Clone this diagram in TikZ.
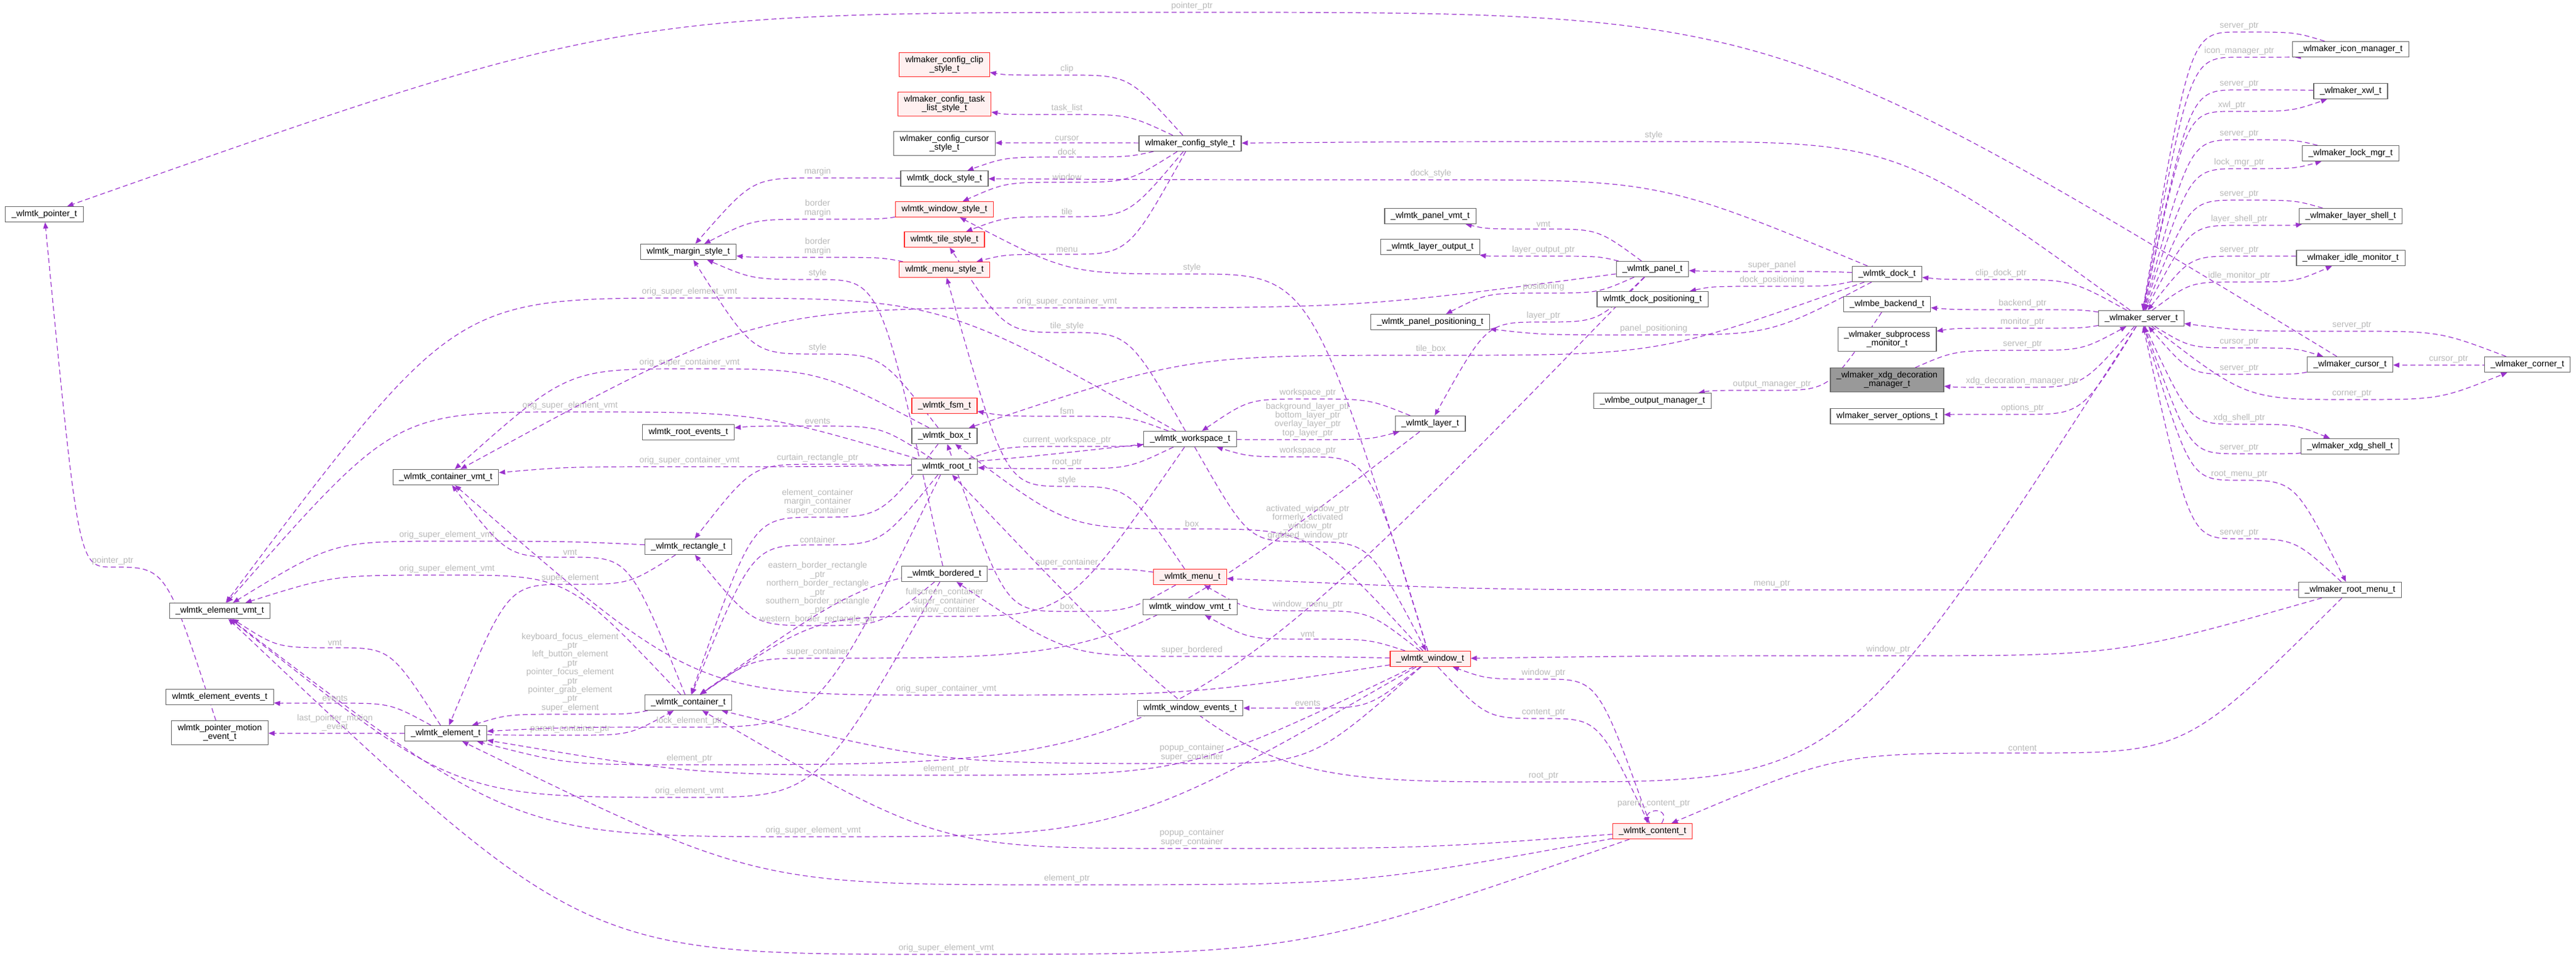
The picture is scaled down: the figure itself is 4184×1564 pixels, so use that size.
\documentclass[tikz,border=0pt]{standalone}
\usepackage{fontspec}
\setmainfont{Liberation Sans}
\usetikzlibrary{arrows.meta, positioning, calc, backgrounds}

\definecolor{depline}{HTML}{9A32CD}
\definecolor{redframe}{HTML}{FF2A2A}
\definecolor{redfill}{HTML}{FFF0F0}
\definecolor{curfill}{HTML}{999999}
\newcommand{\gfont}{\fontsize{4}{4.1}\selectfont}

% member edge: holder, point the curve passes, member type, label
\newcommand{\mbr}[4]{%
  \draw[dep] let \p1=(#1), \p2=(#2), \p3=(#3) in
    (#1) .. controls ({0.5*(\x1)+0.5*(\x2)},\y2) .. (\p2)
         .. controls ({0.5*(\x3)+0.5*(\x2)},\y2) .. (#3);
  \node[elabel] at (#2) {#4};}

\begin{document}
\begin{tikzpicture}[x=0.1mm, y=-0.1mm, font=\gfont,
        cls/.style={draw=black!60, fill=white, line width=0.12mm, minimum height=2.5mm,
          inner xsep=1mm, inner ysep=0.55mm, align=center},
        redcls/.style={cls, draw=redframe, fill=redfill},
        curcls/.style={cls, fill=curfill},
        dep/.style={draw=depline, line width=0.12mm, dash pattern=on 0.8mm off 0.5mm,
          -{Triangle[length=1mm, width=0.8mm]}},
        elabel/.style={anchor=south, text=black!28, inner sep=0.3mm, align=center},
      ]
        \useasboundingbox (0,0) rectangle (4184,1564);

        % left column
        \node[cls] (ptr) at (72,348) {\_wlmtk\_pointer\_t};
        \node[cls] (elvmt) at (357,992) {\_wlmtk\_element\_vmt\_t};
        \node[cls] (elev) at (357,1132) {wlmtk\_element\_events\_t};
        \node[cls] (pmev) at (357,1190) {wlmtk\_pointer\_motion\\\_event\_t};
        \node[cls] (cvmt) at (724,775) {\_wlmtk\_container\_vmt\_t};
        \node[cls] (elem) at (724,1191) {\_wlmtk\_element\_t};
        \node[cls] (margin) at (1118,409) {wlmtk\_margin\_style\_t};
        \node[cls] (rootev) at (1118,702) {wlmtk\_root\_events\_t};
        \node[cls] (rect) at (1118,888) {\_wlmtk\_rectangle\_t};
        \node[cls] (cont) at (1118,1141) {\_wlmtk\_container\_t};

        % styles and toolkit
        \node[redcls] (clip) at (1534,105) {wlmaker\_config\_clip\\\_style\_t};
        \node[redcls] (task) at (1534,169) {wlmaker\_config\_task\\\_list\_style\_t};
        \node[cls] (curst) at (1534,233) {wlmaker\_config\_cursor\\\_style\_t};
        \node[cls] (dockst) at (1534,290) {wlmtk\_dock\_style\_t};
        \node[redcls] (winst) at (1534,340) {wlmtk\_window\_style\_t};
        \node[redcls] (tilest) at (1534,389) {wlmtk\_tile\_style\_t};
        \node[redcls] (menust) at (1534,438) {wlmtk\_menu\_style\_t};
        \node[redcls] (fsm) at (1534,659) {\_wlmtk\_fsm\_t};
        \node[cls] (box) at (1534,708) {\_wlmtk\_box\_t};
        \node[cls] (root) at (1534,758) {\_wlmtk\_root\_t};
        \node[cls] (bord) at (1534,932) {\_wlmtk\_bordered\_t};
        \node[cls] (cfg) at (1933,233) {wlmaker\_config\_style\_t};
        \node[cls] (wsp) at (1933,713) {\_wlmtk\_workspace\_t};
        \node[redcls] (menu) at (1933,937) {\_wlmtk\_menu\_t};
        \node[cls] (wvmt) at (1933,986) {wlmtk\_window\_vmt\_t};
        \node[cls] (wev) at (1933,1150) {wlmtk\_window\_events\_t};
        \node[cls] (pvmt) at (2323,351) {\_wlmtk\_panel\_vmt\_t};
        \node[cls] (lout) at (2323,401) {\_wlmtk\_layer\_output\_t};
        \node[cls] (ppos) at (2323,523) {\_wlmtk\_panel\_positioning\_t};
        \node[cls] (layer) at (2323,688) {\_wlmtk\_layer\_t};
        \node[redcls] (win) at (2323,1070) {\_wlmtk\_window\_t};
        \node[cls] (panel) at (2684,437) {\_wlmtk\_panel\_t};
        \node[cls] (dpos) at (2684,486) {wlmtk\_dock\_positioning\_t};
        \node[cls] (outmgr) at (2684,651) {\_wlmbe\_output\_manager\_t};
        \node[redcls] (content) at (2684,1350) {\_wlmtk\_content\_t};

        % server side
        \node[cls] (dock) at (3065,445) {\_wlmtk\_dock\_t};
        \node[cls] (backend) at (3065,494) {\_wlmbe\_backend\_t};
        \node[cls] (subp) at (3065,551) {\_wlmaker\_subprocess\\\_monitor\_t};
        \node[curcls] (xdgdeco) at (3065,617) {\_wlmaker\_xdg\_decoration\\\_manager\_t};
        \node[cls] (opts) at (3065,676) {wlmaker\_server\_options\_t};
        \node[cls] (server) at (3478,517) {\_wlmaker\_server\_t};
        \node[cls] (icon) at (3818,80) {\_wlmaker\_icon\_manager\_t};
        \node[cls] (xwl) at (3818,148) {\_wlmaker\_xwl\_t};
        \node[cls] (lock) at (3818,249) {\_wlmaker\_lock\_mgr\_t};
        \node[cls] (lshell) at (3818,351) {\_wlmaker\_layer\_shell\_t};
        \node[cls] (idle) at (3818,419) {\_wlmaker\_idle\_monitor\_t};
        \node[cls] (cursor) at (3817,592) {\_wlmaker\_cursor\_t};
        \node[cls] (corner) at (4105,592) {\_wlmaker\_corner\_t};
        \node[cls] (xdgsh) at (3817,725) {\_wlmaker\_xdg\_shell\_t};
        \node[cls] (rmenu) at (3817,958) {\_wlmaker\_root\_menu\_t};

        \begin{scope}[on background layer]
        % config style members
        \mbr{cfg}{1733,122}{clip}{clip}
        \mbr{cfg}{1733,186}{task}{task\_list}
        \mbr{cfg}{1733,232}{curst}{cursor}
        \mbr{cfg}{1733,255}{dockst}{dock}
        \mbr{cfg}{1733,296}{winst}{window}
        \mbr{cfg}{1733,352}{tilest}{tile}
        \mbr{cfg}{1733,413}{menust}{menu}
        \mbr{server}{2686,230}{cfg}{style}
        \mbr{dock}{2324,292}{dockst}{dock\_style}

        % margin styles
        \mbr{dockst}{1328,289}{margin}{margin}
        \mbr{winst}{1328,356}{margin}{border\\margin}
        \mbr{menust}{1328,418}{margin}{border\\margin}
        \mbr{bord}{1328,454}{margin}{style}
        \mbr{box}{1328,575}{margin}{style}
        \mbr{win}{1936,445}{winst}{style}
        \mbr{wsp}{1733,540}{tilest}{tile\_style}
        \mbr{menu}{1733,790}{menust}{style}

        % vmts
        \mbr{wsp}{1120,484}{elvmt}{orig\_super\_element\_vmt}
        \mbr{box}{1120,599}{cvmt}{orig\_super\_container\_vmt}
        \mbr{root}{926,669}{elvmt}{orig\_super\_element\_vmt}
        \mbr{wsp}{1120,758}{cvmt}{orig\_super\_container\_vmt}
        \mbr{panel}{1733,500}{cvmt}{orig\_super\_container\_vmt}
        \mbr{win}{1537,1129}{cvmt}{orig\_super\_container\_vmt}
        \mbr{rect}{726,879}{elvmt}{orig\_super\_element\_vmt}
        \mbr{cont}{726,934}{elvmt}{orig\_super\_element\_vmt}
        \mbr{cont}{926,905}{cvmt}{vmt}
        \mbr{bord}{1120,1295}{elvmt}{orig\_element\_vmt}
        \mbr{win}{1321,1359}{elvmt}{orig\_super\_element\_vmt}
        \mbr{content}{1537,1550}{elvmt}{orig\_super\_element\_vmt}

        % root, box, bordered
        \mbr{root}{1328,692}{rootev}{events}
        \mbr{root}{1328,754}{rect}{curtain\_rectangle\_ptr}
        \mbr{root}{1328,885}{cont}{container}
        \mbr{box}{1328,840}{cont}{element\_container\\margin\_container\\super\_container}
        \mbr{bord}{1328,1016}{rect}{eastern\_border\_rectangle\\\_ptr\\northern\_border\_rectangle\\\_ptr\\southern\_border\_rectangle\\\_ptr\\western\_border\_rectangle\_ptr}
        \mbr{layer}{1328,1069}{cont}{super\_container}
        \mbr{wsp}{1534,1001}{cont}{fullscreen\_container\\super\_container\\window\_container}
        \mbr{menu}{1733,924}{cont}{super\_container}
        \mbr{menu}{1733,993}{box}{box}
        \mbr{win}{1936,859}{box}{box}
        \mbr{win}{1936,1066}{bord}{super\_bordered}
        \mbr{win}{1936,1240}{cont}{popup\_container\\super\_container}
        \mbr{content}{1936,1378}{cont}{popup\_container\\super\_container}

        % element members
        \mbr{rect}{926,949}{elem}{super\_element}
        \mbr{cont}{926,1160}{elem}{keyboard\_focus\_element\\\_ptr\\left\_button\_element\\\_ptr\\pointer\_focus\_element\\\_ptr\\pointer\_grab\_element\\\_ptr\\super\_element}
        \mbr{elem}{544,1052}{elvmt}{vmt}
        \mbr{elem}{544,1142}{elev}{events}
        \mbr{elem}{544,1191}{pmev}{last\_pointer\_motion\\\_event}
        \mbr{pmev}{183,921}{ptr}{pointer\_ptr}
        \mbr{elem}{926,1194}{cont}{parent\_container\_ptr}
        \mbr{root}{1120,1181}{elem}{lock\_element\_ptr}
        \mbr{panel}{1120,1242}{elem}{element\_ptr}
        \mbr{win}{1537,1259}{elem}{element\_ptr}
        \mbr{content}{1733,1437}{elem}{element\_ptr}
        \mbr{cursor}{1936,20}{ptr}{pointer\_ptr}

        % workspace and window
        \mbr{wsp}{1733,676}{fsm}{fsm}
        \mbr{root}{1733,725}{wsp}{current\_workspace\_ptr}
        \mbr{wsp}{1733,761}{root}{root\_ptr}
        \mbr{layer}{2124,648}{wsp}{workspace\_ptr}
        \mbr{wsp}{2124,714}{layer}{background\_layer\_ptr\\bottom\_layer\_ptr\\overlay\_layer\_ptr\\top\_layer\_ptr}
        \mbr{win}{2124,742}{wsp}{workspace\_ptr}
        \mbr{wsp}{2124,880}{win}{activated\_window\_ptr\\formerly\_activated\\\_window\_ptr\\grabbed\_window\_ptr}
        \mbr{win}{2124,992}{menu}{window\_menu\_ptr}
        \mbr{win}{2124,1038}{wvmt}{vmt}
        \mbr{win}{2124,1150}{wev}{events}
        \mbr{content}{2507,1103}{win}{window\_ptr}
        \mbr{win}{2507,1167}{content}{content\_ptr}
        \mbr{server}{2507,1270}{root}{root\_ptr}
        \draw[dep] ([xshift=1.5mm]content.north) .. controls +(1.5mm,2.5mm) and +(0mm,2.5mm) .. ([xshift=-0.9mm]content.north);
        \node[elabel] at (2686,1315) {parent\_content\_ptr};

        % root menu
        \mbr{rmenu}{2878,958}{menu}{menu\_ptr}
        \mbr{rmenu}{3067,1065}{win}{window\_ptr}
        \mbr{rmenu}{3285,1223}{content}{content}
        \mbr{rmenu}{3637,875}{server}{server\_ptr}
        \mbr{server}{3637,780}{rmenu}{root\_menu\_ptr}

        % panel and dock
        \mbr{panel}{2507,372}{pvmt}{vmt}
        \mbr{panel}{2507,416}{lout}{layer\_output\_ptr}
        \mbr{panel}{2507,476}{ppos}{positioning}
        \mbr{panel}{2507,523}{layer}{layer\_ptr}
        \mbr{dock}{2878,441}{panel}{super\_panel}
        \mbr{dock}{2878,465}{dpos}{dock\_positioning}
        \mbr{dock}{2686,544}{ppos}{panel\_positioning}
        \mbr{dock}{2324,577}{box}{tile\_box}
        \mbr{backend}{2878,634}{outmgr}{output\_manager\_ptr}

        % server members
        \mbr{server}{3250,454}{dock}{clip\_dock\_ptr}
        \mbr{server}{3285,503}{backend}{backend\_ptr}
        \mbr{server}{3285,533}{subp}{monitor\_ptr}
        \mbr{xdgdeco}{3285,569}{server}{server\_ptr}
        \mbr{server}{3285,629}{xdgdeco}{xdg\_decoration\_manager\_ptr}
        \mbr{server}{3285,673}{opts}{options\_ptr}
        \mbr{server}{3637,93}{icon}{icon\_manager\_ptr}
        \mbr{icon}{3637,52}{server}{server\_ptr}
        \mbr{xwl}{3637,146}{server}{server\_ptr}
        \mbr{server}{3625,181}{xwl}{xwl\_ptr}
        \mbr{lock}{3637,227}{server}{server\_ptr}
        \mbr{server}{3637,274}{lock}{lock\_mgr\_ptr}
        \mbr{lshell}{3637,325}{server}{server\_ptr}
        \mbr{server}{3637,366}{lshell}{layer\_shell\_ptr}
        \mbr{idle}{3637,416}{server}{server\_ptr}
        \mbr{server}{3637,458}{idle}{idle\_monitor\_ptr}
        \mbr{corner}{3820,538}{server}{server\_ptr}
        \mbr{server}{3637,565}{cursor}{cursor\_ptr}
        \mbr{cursor}{3637,608}{server}{server\_ptr}
        \mbr{corner}{3977,593}{cursor}{cursor\_ptr}
        \mbr{server}{3820,649}{corner}{corner\_ptr}
        \mbr{server}{3637,689}{xdgsh}{xdg\_shell\_ptr}
        \mbr{xdgsh}{3637,737}{server}{server\_ptr}
        \end{scope}
      \end{tikzpicture}
\end{document}
